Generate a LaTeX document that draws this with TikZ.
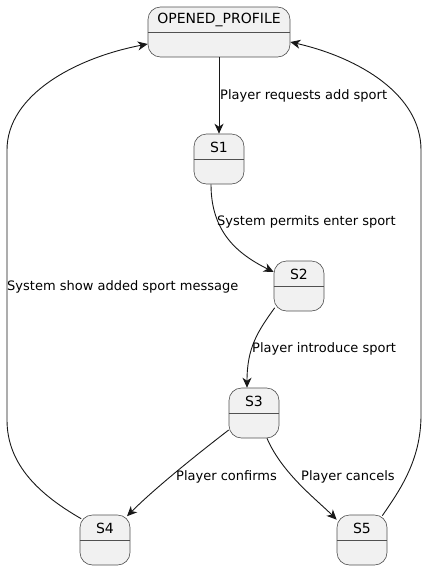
\documentclass[tikz,border=0pt]{standalone}
\usepackage{fontspec}
\setmainfont{DejaVu Sans}
\usetikzlibrary{arrows.meta,calc}
\definecolor{stfill}{HTML}{F1F1F1}
\definecolor{stline}{HTML}{181818}
\definecolor{stborder}{HTML}{505050}
\begin{document}
\begin{tikzpicture}[x=1pt,y=1pt,
  statebox/.style={draw=stborder,fill=stfill,line width=0.6pt,rounded corners=12.5pt,minimum height=50pt,inner sep=0pt},
  stname/.style={font=\fontsize{14}{16}\selectfont,inner sep=0pt,anchor=center},
  lbl/.style={font=\fontsize{13}{15}\selectfont,inner sep=0pt,anchor=west},
  conn/.style={draw=stline,line width=0.9pt,-{Stealth[length=10pt,width=9pt,inset=3pt]}}]
\useasboundingbox (0,0) rectangle (428,-570);
% states
\node[statebox,minimum width=142pt] (op) at (219,-32) {};
\node[statebox,minimum width=50pt] (s1) at (219,-159) {};
\node[statebox,minimum width=50pt] (s2) at (299,-286) {};
\node[statebox,minimum width=50pt] (s3) at (254,-413) {};
\node[statebox,minimum width=50pt] (s4) at (105,-540) {};
\node[statebox,minimum width=50pt] (s5) at (362,-540) {};
\foreach \s/\t in {op/OPENED\_PROFILE,s1/S1,s2/S2,s3/S3,s4/S4,s5/S5}{
  \draw[stborder,line width=0.6pt] ([yshift=-26pt]\s.north west) -- ([yshift=-26pt]\s.north east);
  \node[stname] (\s name) at ([yshift=-13.5pt]\s.north) {\t};
}
% connectors
\draw[conn] (op.south) -- (s1.north);
\draw[conn] ([xshift=-8pt]s1.south) .. controls ([xshift=-8pt,yshift=-48pt]s1.south) and ([xshift=-36pt,yshift=32pt]s2.west) .. ([yshift=14pt]s2.west);
\draw[conn] ([xshift=1pt,yshift=3.5pt]s2.south west) .. controls ([xshift=-16pt,yshift=-20pt]s2.south west) and ([xshift=-7pt,yshift=40pt]s3.north) .. ([xshift=-7pt]s3.north);
\draw[conn] ([yshift=-17pt]s3.west) .. controls (200,-452) and (155,-488) .. ([xshift=22pt,yshift=-1.5pt]s4.north);
\draw[conn] ([xshift=13pt]s3.south) .. controls ([xshift=28pt,yshift=-35pt]s3.south) and ([xshift=-20pt,yshift=15pt]s5.north west) .. ([yshift=-5pt]s5.north west);
\draw[conn] ([xshift=1.5pt,yshift=-4pt]s4.north west) .. controls (40,-495) and (7,-465) .. (7,-420) -- (7,-150) .. controls (7,-95) and (75,-58) .. ([yshift=-12pt]op.west);
\draw[conn] ([xshift=-5pt,yshift=-1pt]s5.north east) .. controls (400,-490) and (421,-460) .. (421,-415) -- (421,-150) .. controls (421,-95) and (360,-58) .. ([yshift=-10pt]op.east);
% labels
\node[lbl] (l1) at (220,-96) {Player requests add sport};
\node[lbl] (l2) at (217,-222) {System permits enter sport};
\node[lbl] (l3) at (252,-349) {Player introduce sport};
\node[lbl] (l4) at (176,-477) {Player confirms};
\node[lbl] (l5) at (301,-477) {Player cancels};
\node[lbl] (l6) at (7,-287) {System show added sport message};
\end{tikzpicture}
\end{document}
